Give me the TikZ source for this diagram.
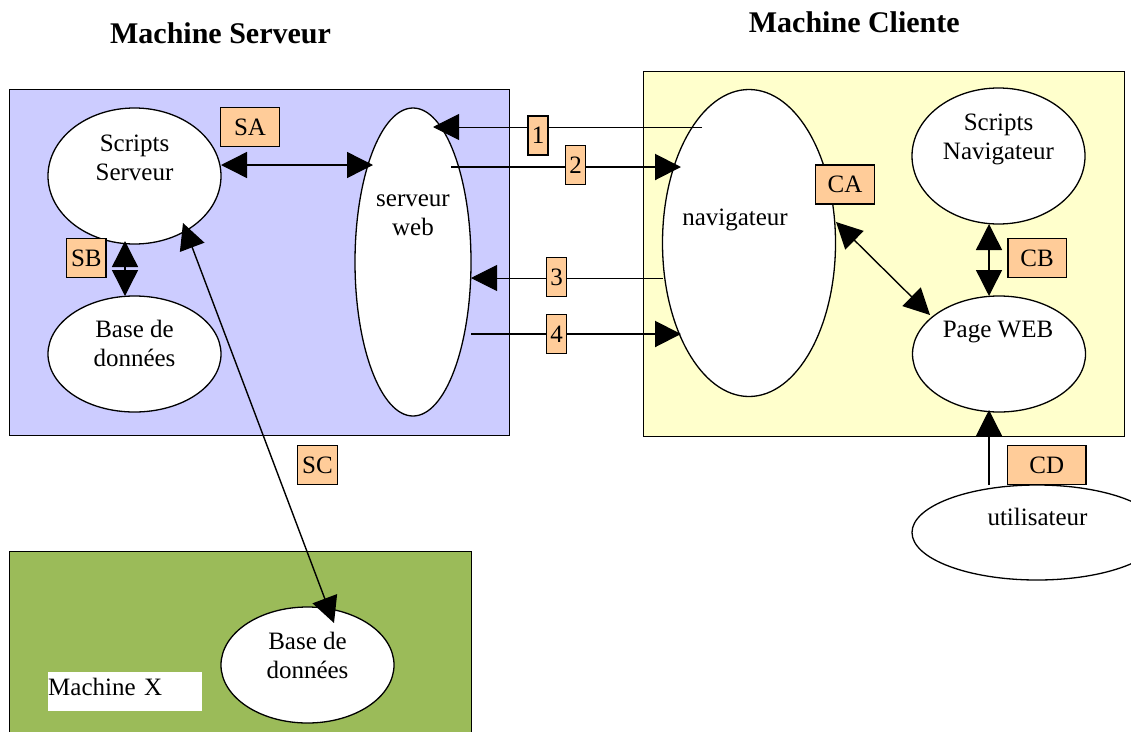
\documentclass[tikz,border=0pt]{standalone}
\usepackage{fontspec}
\setmainfont{Liberation Serif}
\usepackage{tikz}
\usetikzlibrary{shapes.geometric,arrows.meta}
\definecolor{serveur}{RGB}{204,204,255}
\definecolor{client}{RGB}{255,255,204}
\definecolor{machx}{RGB}{155,187,89}
\definecolor{etiquette}{RGB}{255,204,153}

\begin{document}
\begin{tikzpicture}[x=1pt, y=-1pt,
  >={Triangle[length=26pt,width=26pt]},
  machine/.style={draw, line width=1.3pt, anchor=north west, inner sep=0pt},
  bulle/.style={ellipse, draw, fill=white, line width=1.3pt, inner sep=0pt, outer sep=0pt},
  texte/.style={font=\fontsize{25}{29}\selectfont, align=center, inner sep=0pt, anchor=base},
  titre/.style={font=\bfseries\fontsize{30}{36}\selectfont, inner sep=0pt, anchor=base},
  etiq/.style={draw, fill=etiquette, line width=1.3pt, inner sep=0pt, minimum height=39pt, font=\fontsize{25}{29}\selectfont},
  fleche/.style={line width=1.4pt}]
  \clip (0,0) rectangle (1131,731);

  % les machines
  \node[machine, fill=serveur, minimum width=500pt, minimum height=346pt] (ms) at (9,89) {};
  \node[machine, fill=client, minimum width=481pt, minimum height=365pt] (mc) at (643,71) {};
  \node[machine, fill=machx, minimum width=462pt, minimum height=200pt] (mx) at (9,551) {};
  \node[titre] (t-ms) at (220.5,43) {Machine Serveur};
  \node[titre] (t-mc) at (854.3,32) {Machine Cliente};
  \node[fill=white, inner sep=0pt, anchor=base west, text width=154pt, align=left,
        text height=23pt, text depth=16pt, font=\fontsize{25}{29}\selectfont] (t-mx) at (48,695) {Machine X};

  % les bulles
  \node[bulle, minimum width=173pt, minimum height=136pt] (ss) at (134.5,176) {};
  \node[bulle, minimum width=173pt, minimum height=116pt] (bds) at (134.5,354) {};
  \node[bulle, minimum width=116pt, minimum height=308pt] (sw) at (413,262) {};
  \node[bulle, minimum width=173pt, minimum height=307pt] (nav) at (749,243) {};
  \node[bulle, minimum width=173pt, minimum height=136pt] (sn) at (998.5,156) {};
  \node[bulle, minimum width=173pt, minimum height=116pt] (pw) at (999,354) {};
  \node[bulle, minimum width=250pt, minimum height=95pt] (ut) at (1037,532.5) {};
  \node[bulle, minimum width=173pt, minimum height=116pt] (bdx) at (307.5,665) {};

  \node[texte] (t-ss) at (134.5,180) {Scripts\\Serveur};
  \node[texte] (t-bds) at (134.5,366.7) {Base de\\donn\'ees};
  \node[texte] (t-sw) at (413,235) {serveur\\web};
  \node[texte] (t-nav) at (735,225) {navigateur};
  \node[texte] (t-sn) at (998.5,159) {Scripts\\Navigateur};
  \node[texte] (t-pw) at (998,337) {Page WEB};
  \node[texte] (t-ut) at (1037.5,525) {utilisateur};
  \node[texte] (t-bdx) at (307.5,678.3) {Base de\\donn\'ees};

  % les fleches
  \draw[<->, fleche] ([yshift=11pt]ss.east) -- ([shift={(-40,-97)}]sw.center);
  \draw[<->, fleche] ([shift={(-9.5,-3)}]ss.south) -- ([xshift=-9.5pt]bds.north);
  \draw[<->, fleche] ([shift={(48.5,47)}]ss.center) -- ([shift={(26.5,-42)}]bdx.center);
  \draw[->, line width=1pt] ([shift={(-47,-116)}]nav.center) -- ([shift={(20,-135)}]sw.center);
  \draw[->, line width=2pt] ([shift={(38,-95)}]sw.center) -- ([shift={(-68,-76)}]nav.center);
  \draw[->, line width=1pt] ([yshift=-35pt]nav.west) -- ([yshift=-16pt]sw.east);
  \draw[->, line width=2pt] ([yshift=-72pt]sw.east) -- ([shift={(-68,91)}]nav.center);
  \draw[<->, fleche] ([shift={(87,-21)}]nav.center) -- ([shift={(-69,-39)}]pw.center);
  \draw[<->, fleche] ([xshift=-9.5pt]sn.south) -- ([xshift=-10pt]pw.north);
  \draw[->, line width=1.2pt] ([xshift=-48pt]ut.north) -- ([shift={(-10,-2)}]pw.south);

  % les etiquettes
  \node[etiq, minimum width=58.6pt] (sa) at (250,127.3) {SA};
  \node[etiq, minimum width=39.3pt] (sb) at (86.3,258.2) {SB};
  \node[etiq, minimum width=39.6pt] (sc) at (317.5,465.2) {SC};
  \node[etiq, minimum width=20pt] (e1) at (538,135.5) {1};
  \node[etiq, minimum width=20pt] (e2) at (575.7,165.3) {2};
  \node[etiq, minimum width=20pt] (e3) at (556.7,277.3) {3};
  \node[etiq, minimum width=20pt] (e4) at (556.7,334.2) {4};
  \node[etiq, minimum width=58.6pt] (ca) at (845,184.5) {CA};
  \node[etiq, minimum width=58.3pt] (cb) at (1037,258.3) {CB};
  \node[etiq, minimum width=78.7pt] (cd) at (1046.7,465.3) {CD};
\end{tikzpicture}
\end{document}
